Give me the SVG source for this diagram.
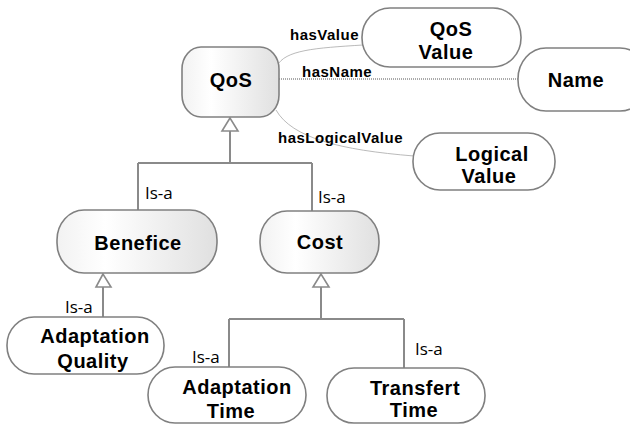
<svg xmlns="http://www.w3.org/2000/svg" width="630" height="425" viewBox="0 0 630 425">
<defs>
<linearGradient id="g" x1="0" y1="0" x2="1" y2="0">
<stop offset="0" stop-color="#f2f2f2"/>
<stop offset="0.3" stop-color="#ffffff"/>
<stop offset="1" stop-color="#e0e0e0"/>
</linearGradient>
<style>
.n{stroke:#808080;stroke-width:1.6;fill:#fff}
.gf{fill:url(#g)}
.t{font-family:"Liberation Sans",Arial,sans-serif;font-weight:bold;font-size:20px;letter-spacing:0.5px;fill:#000;text-anchor:middle}
.e{font-family:"Liberation Sans",Arial,sans-serif;font-weight:bold;font-size:15px;letter-spacing:0.5px;fill:#000}
.i{font-family:"Open Sans",sans-serif;font-size:17px;fill:#000}
.tree{stroke:#8a8a8a;stroke-width:2;fill:none}
.tri{stroke:#8a8a8a;stroke-width:1.6;fill:#fff}
.rel{stroke:#a8a8a8;stroke-width:0.8;fill:none}
.dot{stroke:#555;stroke-width:1;stroke-dasharray:1 1;fill:none}
</style>
</defs>
<g id="connectors">
<path class="rel" d="M277,66 C285,50 315,48 363,45"/>
<path class="dot" d="M279,79 L518,79"/>
<path class="rel" d="M276,110 C292,138 340,150 414,156"/>
<path class="tree" d="M230,131 V163 M138,163 H312 M138,163 V210 M312,163 V211"/>
<polygon class="tri" points="230,118 222,131 238,131"/>
<path class="tree" d="M103,287 V317"/>
<polygon class="tri" points="103,274 96,287 111,287"/>
<path class="tree" d="M321,287 V319 M229,319 H404 M229,319 V367 M404,319 V368"/>
<polygon class="tri" points="321,274 313,287 329,287"/>
<text class="e" x="290" y="40">hasValue</text>
<text class="e" x="302" y="77">hasName</text>
<text class="e" x="278" y="143">hasLogicalValue</text>
<text class="i" x="145" y="199">Is-a</text>
<text class="i" x="318" y="203">Is-a</text>
<text class="i" x="65" y="313">Is-a</text>
<text class="i" x="192" y="363">Is-a</text>
<text class="i" x="415" y="355">Is-a</text>
</g>
<g id="qos">
<rect class="n gf" x="182" y="47" width="97" height="70" rx="19" ry="22"/>
<text class="t" x="231" y="87">QoS</text>
</g>
<g id="qos-value">
<rect class="n" x="362" y="8" width="159" height="59" rx="28" ry="29"/>
<text class="t" x="451" y="36">QoS</text>
<text class="t" x="446" y="59">Value</text>
</g>
<g id="name">
<rect class="n" x="518" y="48" width="130" height="63" rx="28" ry="31"/>
<text class="t" x="576" y="87">Name</text>
</g>
<g id="logical-value">
<rect class="n" x="413" y="133" width="142" height="57" rx="27" ry="28"/>
<text class="t" x="492" y="161">Logical</text>
<text class="t" x="489" y="183">Value</text>
</g>
<g id="benefice">
<rect class="n gf" x="57" y="210" width="160" height="63" rx="27" ry="30"/>
<text class="t" x="138" y="250">Benefice</text>
</g>
<g id="cost">
<rect class="n gf" x="260" y="211" width="119" height="62" rx="27" ry="30"/>
<text class="t" x="320" y="249">Cost</text>
</g>
<g id="adaptation-quality">
<rect class="n" x="7" y="317" width="157" height="57" rx="27" ry="28"/>
<text class="t" x="95" y="343">Adaptation</text>
<text class="t" x="93" y="368">Quality</text>
</g>
<g id="adaptation-time">
<rect class="n" x="148" y="367" width="158" height="56" rx="27" ry="28"/>
<text class="t" x="237" y="394">Adaptation</text>
<text class="t" x="231" y="418">Time</text>
</g>
<g id="transfert-time">
<rect class="n" x="327" y="368" width="158" height="55" rx="27" ry="27"/>
<text class="t" x="415" y="395">Transfert</text>
<text class="t" x="414" y="417">Time</text>
</g>
</svg>
